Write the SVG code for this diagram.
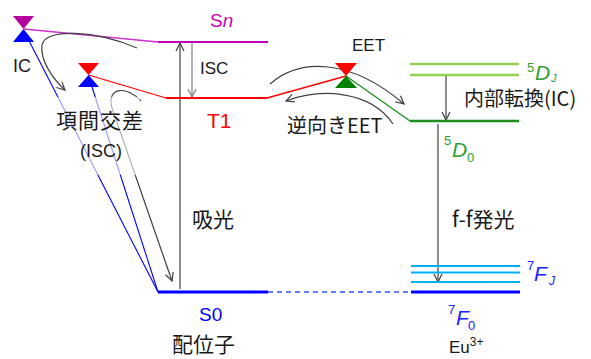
<svg xmlns="http://www.w3.org/2000/svg" width="591" height="359" viewBox="0 0 591 359">
<style>
text{font-family:"Liberation Sans","Noto Sans CJK JP",sans-serif;fill:#1a1a1a}
.jp{font-family:"Noto Sans CJK JP","Liberation Sans",sans-serif}
.arr{fill:none;stroke:#404040;stroke-width:1.2}
</style>
<defs>
<marker id="ah" viewBox="0 0 10 10" refX="9" refY="5" markerWidth="10" markerHeight="10" markerUnits="userSpaceOnUse" orient="auto">
<path d="M1,1 L9,5 L1,9" fill="none" stroke="#404040" stroke-width="1.2"/>
</marker>
<marker id="ahg" viewBox="0 0 10 10" refX="9" refY="5" markerWidth="10" markerHeight="10" markerUnits="userSpaceOnUse" orient="auto">
<path d="M1,1 L9,5 L1,9" fill="none" stroke="#7f7f7f" stroke-width="1.2"/>
</marker>
</defs>
<g id="connectors">
<line x1="24" y1="29" x2="158" y2="42" stroke="#cc33cc" stroke-width="1.3"/>
<line x1="24" y1="31" x2="158" y2="292" stroke="#0000ff" stroke-width="1.1"/>
<line x1="88.5" y1="76" x2="158" y2="292" stroke="#0000ff" stroke-width="1.1"/>
<line x1="88.5" y1="75" x2="166" y2="98" stroke="#ff0000" stroke-width="1.3"/>
<line x1="267" y1="98" x2="346" y2="76" stroke="#ff0000" stroke-width="1.3"/>
<line x1="346" y1="76" x2="410" y2="121" stroke="#1e8c1e" stroke-width="1.3"/>
<line x1="268" y1="292" x2="410" y2="292" stroke="#3050ff" stroke-width="1.5" stroke-dasharray="5,4"/>
<line x1="180" y1="289" x2="180" y2="43" class="arr" marker-end="url(#ah)"/>
<line x1="192" y1="43" x2="192" y2="97" fill="none" stroke="#7f7f7f" stroke-width="1.2" marker-end="url(#ahg)"/>
<line x1="446" y1="76" x2="446" y2="120" class="arr" marker-end="url(#ah)"/>
<line x1="438" y1="124" x2="438" y2="282" class="arr" marker-end="url(#ah)"/>
<path d="M137,48 C95,30 45,28 42,45 C40,60 52,78 65,90" class="arr" marker-end="url(#ah)"/>
<path d="M141,101 C128,86 106,86 112,108 L172,281" class="arr" marker-end="url(#ah)"/>
<path d="M270,84 C300,58 350,58 404,104" class="arr" marker-end="url(#ah)"/>
<path d="M393,124 C370,90 320,88 286,101" class="arr" marker-end="url(#ah)"/>
</g>
<rect x="45" y="97" width="95" height="78" fill="#ffffff" fill-opacity="0.6"/>
<g id="levels">
<line x1="158" y1="42" x2="268" y2="42" stroke="#c000c0" stroke-width="2"/>
<line x1="166" y1="98" x2="267" y2="98" stroke="#ff0000" stroke-width="2.2"/>
<line x1="158" y1="292" x2="268" y2="292" stroke="#0000ff" stroke-width="3"/>
<line x1="410" y1="64" x2="519" y2="64" stroke="#92d050" stroke-width="2.5"/>
<line x1="410" y1="75" x2="519" y2="75" stroke="#92d050" stroke-width="2.5"/>
<line x1="410" y1="121" x2="519" y2="121" stroke="#1e8c1e" stroke-width="2.5"/>
<line x1="411" y1="266" x2="520" y2="266" stroke="#00b0f0" stroke-width="2.2"/>
<line x1="411" y1="272.5" x2="520" y2="272.5" stroke="#00b0f0" stroke-width="2.2"/>
<line x1="411" y1="282" x2="520" y2="282" stroke="#00b0f0" stroke-width="2.2"/>
<line x1="411" y1="292" x2="520" y2="292" stroke="#0000ff" stroke-width="3"/>
</g>
<g id="ligand-Sn">
<polygon points="13,16 34,16 23.5,29" fill="#b4009e"/>
<polygon points="23.5,29 13,42 34,42" fill="#0000ff"/>
<text x="13" y="72" font-size="18">IC</text>
<text x="210" y="27" font-size="19" style="fill:#cc00aa">S<tspan font-style="italic">n</tspan></text>
<text x="200" y="74" font-size="17">ISC</text>
</g>
<g id="ligand-T1">
<polygon points="78,63 99,63 88.5,75" fill="#ff0000"/>
<polygon points="88.5,75 78,87 99,87" fill="#0000ff"/>
<text x="207" y="128" font-size="21" style="fill:#ff0000">T1</text>
<text x="56" y="128" font-size="21" class="jp" letter-spacing="1">項間交差</text>
<text x="80" y="157" font-size="18">(ISC)</text>
</g>
<g id="eet">
<polygon points="335,63 357,63 346,76" fill="#ff0000"/>
<polygon points="346,76 335,88 357,88" fill="#008000"/>
<text x="352" y="51" font-size="17">EET</text>
<text x="287" y="133" font-size="20" class="jp">逆向きEET</text>
</g>
<g id="eu-5D">
<text x="464" y="106" font-size="20" class="jp">内部転換(IC)</text>
<text x="527" y="72" font-size="13" style="fill:#2e9e2e">5</text>
<text x="535" y="80" font-size="21" font-style="italic" style="fill:#2e9e2e">D</text>
<text x="551" y="82" font-size="11" font-style="italic" style="fill:#2e9e2e">J</text>
<text x="444" y="145" font-size="13" style="fill:#2e9e2e">5</text>
<text x="452" y="157" font-size="21" font-style="italic" style="fill:#2e9e2e">D</text>
<text x="467" y="162" font-size="13" style="fill:#2e9e2e">0</text>
</g>
<g id="absorption">
<text x="192" y="227" font-size="21" class="jp">吸光</text>
</g>
<g id="emission">
<text x="452" y="227" font-size="21" class="jp">f-f発光</text>
</g>
<g id="ligand-S0">
<text x="199" y="321" font-size="19" style="fill:#0000ff">S0</text>
<text x="172" y="352" font-size="21" class="jp">配位子</text>
</g>
<g id="eu-7F">
<text x="527" y="270" font-size="13" style="fill:#2020ff">7</text>
<text x="534" y="281" font-size="21" font-style="italic" style="fill:#2020ff">F</text>
<text x="549" y="285" font-size="12" font-style="italic" style="fill:#2020ff">J</text>
<text x="448" y="314" font-size="13" style="fill:#2020ff">7</text>
<text x="456" y="325" font-size="21" font-style="italic" style="fill:#2020ff">F</text>
<text x="468" y="330" font-size="13" style="fill:#2020ff">0</text>
<text x="449" y="353" font-size="17">Eu<tspan font-size="12" dy="-7">3+</tspan></text>
</g>
</svg>
